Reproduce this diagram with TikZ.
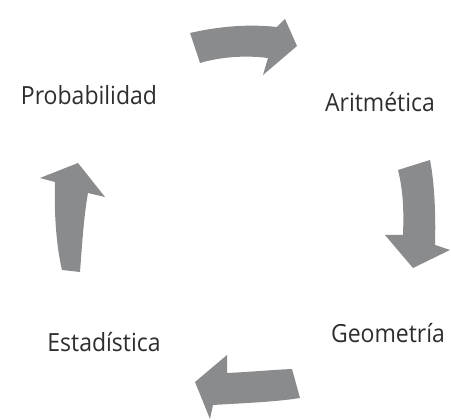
\documentclass[tikz,border=0pt]{standalone}
\usepackage{fontspec}
\setmainfont{Open Sans}[FakeStretch=0.92]
\definecolor{arrowgray}{HTML}{8A8B8D}
\definecolor{textgray}{HTML}{2E2E2E}
\tikzset{
  cyclearrow/.style={fill=arrowgray, draw=none},
  label/.style={text=textgray, inner sep=0pt, anchor=base, font=\fontsize{25}{29}\selectfont}
}
\begin{document}
\begin{tikzpicture}[x=1pt,y=-1pt]
\useasboundingbox (0,0) rectangle (451,420);
% top arrow
\fill[cyclearrow] (190,33) .. controls (220,26) and (250,24) .. (277,27)
  -- (285,19) -- (297,46) -- (263,75) -- (268,58)
  .. controls (245,55) and (220,57) .. (200,63) -- cycle;
% right arrow
\fill[cyclearrow] (430,160) .. controls (434,180) and (436,210) .. (435,245)
  -- (450,250) -- (413,268) -- (385,235) -- (403,235)
  .. controls (404,210) and (403,190) .. (398,170) -- cycle;
% bottom arrow
\fill[cyclearrow] (300,398) .. controls (275,402) and (245,403) .. (213,405)
  -- (210,419) -- (195,382) -- (227,355) -- (227,373)
  .. controls (250,372) and (270,370) .. (292,369) -- cycle;
% left arrow
\fill[cyclearrow] (62,270) .. controls (56,245) and (54,210) .. (55,182)
  -- (40,178) -- (78,163) -- (105,197) -- (88,193)
  .. controls (84,215) and (82,245) .. (80,272) -- cycle;
\node[label] (prob) at (89,105) {Probabilidad};
\node[label] (arit) at (380,112) {Aritmética};
\node[label] (geom) at (388,343) {Geometría};
\node[label] (esta) at (104,352) {Estadística};
\end{tikzpicture}
\end{document}
